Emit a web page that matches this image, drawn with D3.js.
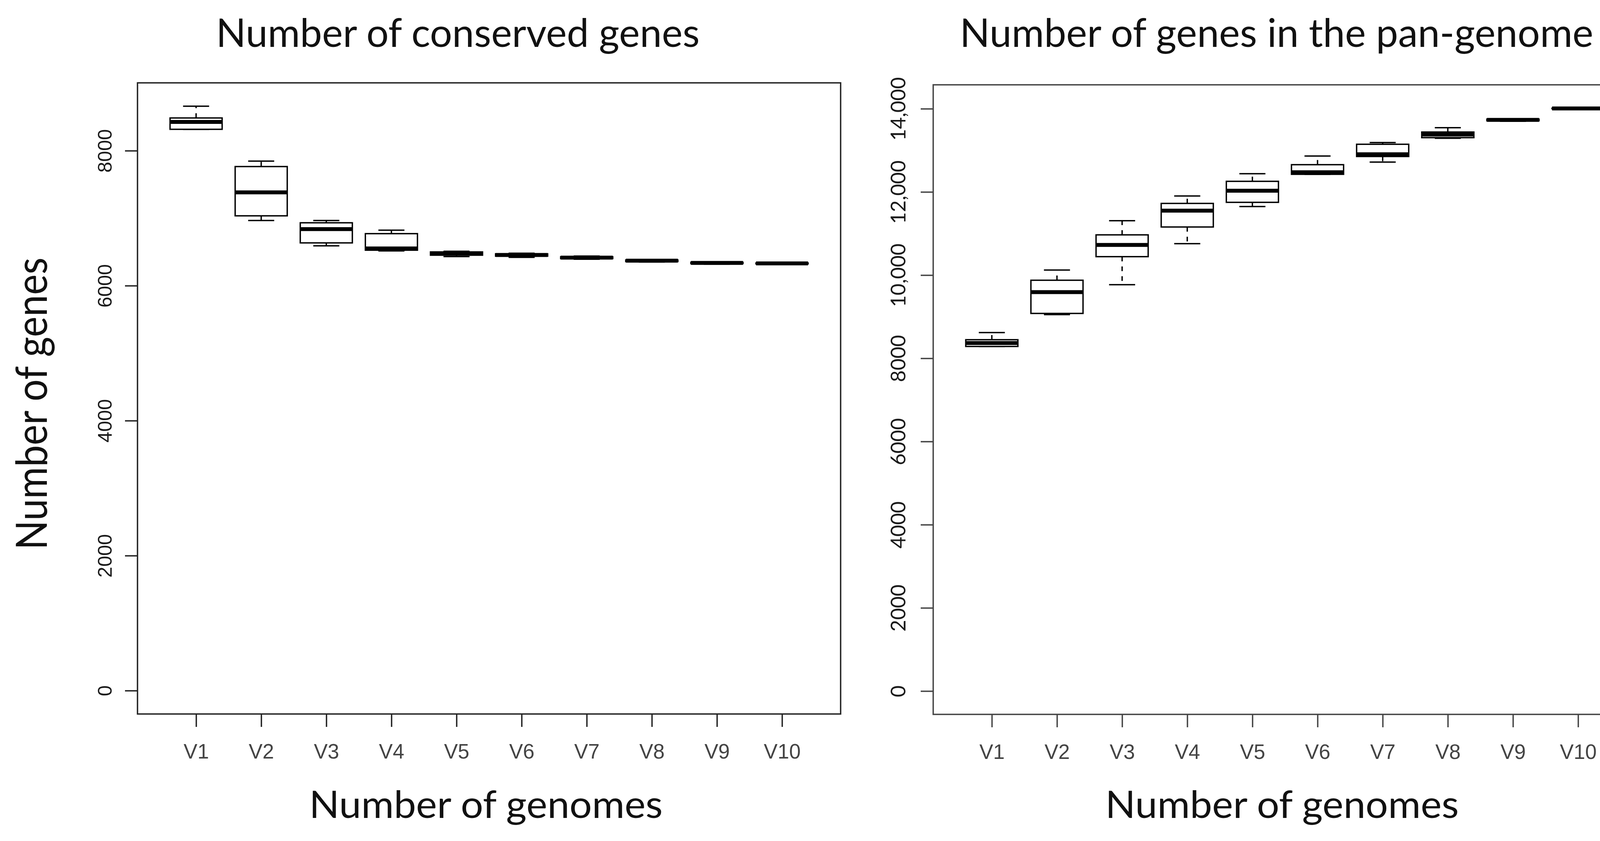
<!DOCTYPE html>
<html>
<head>
<meta charset="utf-8">
<script src="https://cdn.jsdelivr.net/npm/d3@7"></script>
<style>
  html, body { margin: 0; padding: 0; background: #fff; }
  svg { display: block; }
</style>
</head>
<body>
<svg id="chart" width="4240" height="2152"></svg>
<script>
"use strict";

// categories
var genomes = ["V1", "V2", "V3", "V4", "V5", "V6", "V7", "V8", "V9", "V10"];

// conserved genes (core), five-number summaries
var coreMin = [8317, 6966, 6590, 6515, 6432, 6420, 6392, 6350, 6320, 6318];
var coreQ1  = [8317, 7035, 6634, 6526, 6452, 6438, 6402, 6358, 6328, 6324];
var coreMed = [8427, 7383, 6838, 6551, 6480, 6455, 6415, 6370, 6338, 6330];
var coreQ3  = [8485, 7765, 6932, 6771, 6500, 6472, 6428, 6380, 6346, 6336];
var coreMax = [8659, 7846, 6965, 6823, 6510, 6480, 6438, 6386, 6350, 6340];

// genes in the pan-genome
var panMin = [8285, 9052, 9769, 10757, 11650, 12424, 12718, 13290, 13700, 14000];
var panQ1  = [8285, 9079, 10444, 11157, 11750, 12424, 12852, 13305, 13712, 14002];
var panMed = [8368, 9591, 10725, 11551, 12030, 12474, 12906, 13381, 13733, 14008];
var panQ3  = [8447, 9877, 10968, 11724, 12255, 12655, 13146, 13440, 13750, 14012];
var panMax = [8620, 10121, 11308, 11902, 12438, 12864, 13188, 13545, 13760, 14015];

// tick values and labels
var coreTicks = [0, 2000, 4000, 6000, 8000];
var coreTickLabels = ["0", "2000", "4000", "6000", "8000"];
var panTicks = [0, 2000, 4000, 6000, 8000, 10000, 12000, 14000];
var panTickLabels = ["0", "2000", "4000", "6000", "8000", "10,000", "12,000", "14,000"];

var svg = d3.select("#chart");

svg.append("rect")
    .attr("width", 4240)
    .attr("height", 2152)
    .attr("fill", "#fff");

/**
 * Draw one R-style boxplot panel
 */
function drawPanel(opts) {

    var frame = opts.frame;
    var n = opts.categories.length;

    // R: x range 0.5..n+0.5 extended by 4%
    var xPad = 0.04 * n;
    var x = d3.scaleLinear()
        .domain([0.5 - xPad, n + 0.5 + xPad])
        .range([frame.left, frame.right]);

    // R: ylim from 0 to data max, extended by 4%
    var yTop = d3.max(opts.max);
    var yPad = 0.04 * yTop;
    var y = d3.scaleLinear()
        .domain([0 - yPad, yTop + yPad])
        .range([frame.bottom, frame.top]);

    var g = svg.append("g");

    var boxes = g.selectAll("g.box")
        .data(opts.categories.map(function(c, i) {
            return {
                pos: i + 1,
                min: opts.min[i], q1: opts.q1[i], med: opts.med[i],
                q3: opts.q3[i], max: opts.max[i]
            };
        }))
        .enter()
        .append("g")
        .attr("class", "box");

    var halfBox = 0.4, halfStaple = 0.2;

    // whiskers
    boxes.append("line")
        .attr("x1", function(d) { return x(d.pos); })
        .attr("x2", function(d) { return x(d.pos); })
        .attr("y1", function(d) { return y(d.q3); })
        .attr("y2", function(d) { return y(d.max); })
        .attr("stroke", "#000")
        .attr("stroke-width", 3.5)
        .attr("stroke-dasharray", "12,13");

    boxes.append("line")
        .attr("x1", function(d) { return x(d.pos); })
        .attr("x2", function(d) { return x(d.pos); })
        .attr("y1", function(d) { return y(d.q1); })
        .attr("y2", function(d) { return y(d.min); })
        .attr("stroke", "#000")
        .attr("stroke-width", 3.5)
        .attr("stroke-dasharray", "12,13");

    // staples
    ["min", "max"].forEach(function(k) {
        boxes.append("line")
            .attr("x1", function(d) { return x(d.pos - halfStaple); })
            .attr("x2", function(d) { return x(d.pos + halfStaple); })
            .attr("y1", function(d) { return y(d[k]); })
            .attr("y2", function(d) { return y(d[k]); })
            .attr("stroke", "#000")
            .attr("stroke-width", 3.5);
    });

    // box
    boxes.append("rect")
        .attr("x", function(d) { return x(d.pos - halfBox); })
        .attr("width", function(d) { return x(d.pos + halfBox) - x(d.pos - halfBox); })
        .attr("y", function(d) { return y(d.q3); })
        .attr("height", function(d) { return y(d.q1) - y(d.q3); })
        .attr("fill", "#fff")
        .attr("stroke", "#000")
        .attr("stroke-width", 3.5);

    // median
    boxes.append("line")
        .attr("x1", function(d) { return x(d.pos - halfBox); })
        .attr("x2", function(d) { return x(d.pos + halfBox); })
        .attr("y1", function(d) { return y(d.med); })
        .attr("y2", function(d) { return y(d.med); })
        .attr("stroke", "#000")
        .attr("stroke-width", 10)
        .attr("stroke-linecap", "butt");

    // frame
    g.append("rect")
        .attr("x", frame.left)
        .attr("y", frame.top)
        .attr("width", frame.right - frame.left)
        .attr("height", frame.bottom - frame.top)
        .attr("fill", "none")
        .attr("stroke", opts.frameColor)
        .attr("stroke-width", 3.5);

    // x axis
    var xAxis = d3.axisBottom(x)
        .tickValues(d3.range(1, n + 1))
        .tickFormat(function(d) { return opts.categories[d - 1]; })
        .tickSize(33)
        .tickSizeOuter(0);

    var xg = g.append("g")
        .attr("transform", "translate(0," + frame.bottom + ")")
        .call(xAxis);
    xg.select(".domain").remove();
    xg.selectAll(".tick line")
        .attr("stroke", opts.frameColor)
        .attr("stroke-width", 3.5);
    xg.selectAll(".tick text")
        .attr("y", 114)
        .attr("dy", 0)
        .attr("fill", "#444")
        .style("font-family", "'Liberation Sans', Arial, sans-serif")
        .style("font-size", "53px");

    // y axis
    var yAxis = d3.axisLeft(y)
        .tickValues(opts.ticks)
        .tickFormat(function(d, i) { return opts.tickLabels[i]; })
        .tickSize(32)
        .tickSizeOuter(0);

    var yg = g.append("g")
        .attr("transform", "translate(" + frame.left + ",0)")
        .call(yAxis);
    yg.select(".domain").remove();
    yg.selectAll(".tick line")
        .attr("stroke", opts.frameColor)
        .attr("stroke-width", 3.5);
    yg.selectAll(".tick text")
        .attr("x", 0)
        .attr("y", -opts.yLabelBaseline)
        .attr("dy", 0)
        .attr("transform", "rotate(-90)")
        .attr("text-anchor", "middle")
        .attr("fill", "#1a1a1a")
        .style("font-family", opts.yLabelFont)
        .style("font-size", opts.yLabelSize + "px");

    // titles
    g.append("text")
        .attr("x", opts.titleX)
        .attr("y", 120)
        .attr("text-anchor", "middle")
        .attr("textLength", opts.titleWidth)
        .attr("lengthAdjust", "spacingAndGlyphs")
        .attr("fill", "#111")
        .style("font-family", "Lato, 'Open Sans', sans-serif")
        .style("font-size", "101px")
        .text(opts.title);

    g.append("text")
        .attr("x", opts.xTitleX)
        .attr("y", 2093)
        .attr("text-anchor", "middle")
        .attr("textLength", 905)
        .attr("lengthAdjust", "spacingAndGlyphs")
        .attr("fill", "#111")
        .style("font-family", "Lato, 'Open Sans', sans-serif")
        .style("font-size", "96px")
        .text("Number of genomes");

    if (opts.yTitle) {
        g.append("text")
            .attr("transform", "translate(120," + 1033 + ") rotate(-90)")
            .attr("text-anchor", "middle")
            .attr("textLength", 748)
            .attr("lengthAdjust", "spacingAndGlyphs")
            .attr("fill", "#111")
            .style("font-family", "Lato, 'Open Sans', sans-serif")
            .style("font-size", "110px")
            .text(opts.yTitle);
    }
}

drawPanel({
    categories: genomes,
    min: coreMin, q1: coreQ1, med: coreMed, q3: coreQ3, max: coreMax,
    ticks: coreTicks, tickLabels: coreTickLabels,
    frame: { left: 352, right: 2152, top: 212, bottom: 1827 },
    frameColor: "#222",
    yLabelBaseline: 66,
    yLabelFont: "'Liberation Sans', Arial, sans-serif",
    yLabelSize: 50,
    title: "Number of conserved genes",
    titleX: 1172,
    titleWidth: 1238,
    xTitleX: 1244,
    yTitle: "Number of genes"
});

drawPanel({
    categories: genomes,
    min: panMin, q1: panQ1, med: panMed, q3: panQ3, max: panMax,
    ticks: panTicks, tickLabels: panTickLabels,
    frame: { left: 2389, right: 4190, top: 217, bottom: 1828 },
    frameColor: "#444",
    yLabelBaseline: 71,
    yLabelFont: "Lato, 'Open Sans', sans-serif",
    yLabelSize: 52,
    title: "Number of genes in the pan-genome",
    titleX: 3268,
    titleWidth: 1622,
    xTitleX: 3282,
    yTitle: null
});
</script>
</body>
</html>
